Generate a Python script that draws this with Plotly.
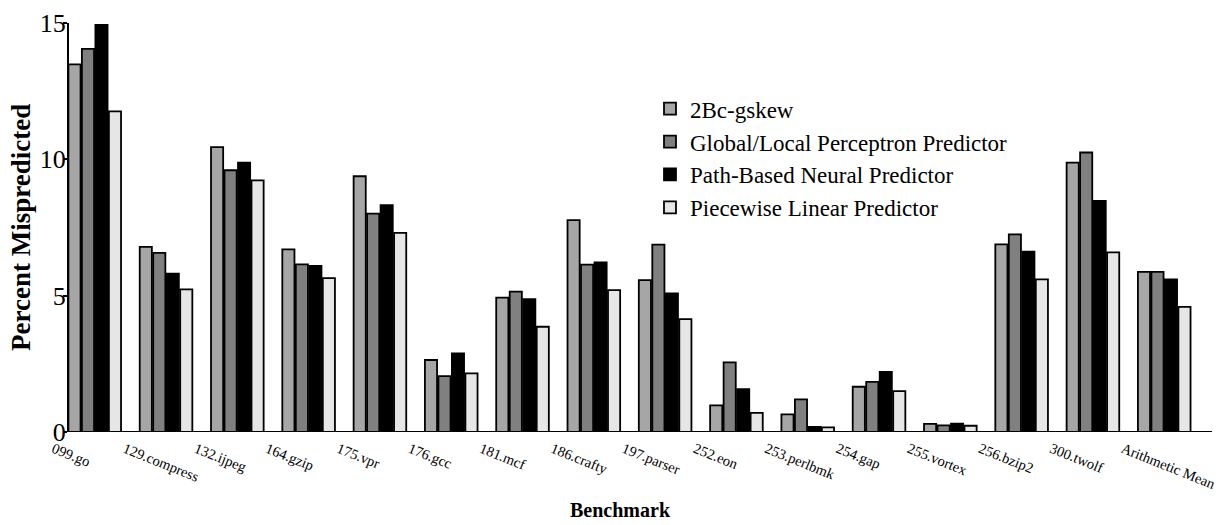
import plotly.graph_objects as go

benchmarks = ["099.go", "129.compress", "132.ijpeg", "164.gzip", "175.vpr", "176.gcc",
              "181.mcf", "186.crafty", "197.parser", "252.eon", "253.perlbmk", "254.gap",
              "255.vortex", "256.bzip2", "300.twolf", "Arithmetic Mean"]

gskew      = [13.48, 6.79, 10.45, 6.70, 9.38, 2.64, 4.93, 7.77, 5.57, 0.98, 0.65, 1.66, 0.30, 6.88, 9.88, 5.87]
perceptron = [14.05, 6.57, 9.60, 6.15, 8.01, 2.05, 5.15, 6.14, 6.87, 2.55, 1.20, 1.84, 0.24, 7.25, 10.25, 5.87]
path_based = [14.93, 5.81, 9.88, 6.09, 8.32, 2.88, 4.87, 6.22, 5.08, 1.57, 0.19, 2.20, 0.31, 6.61, 8.48, 5.60]
piecewise  = [11.76, 5.23, 9.23, 5.64, 7.30, 2.15, 3.86, 5.20, 4.14, 0.70, 0.17, 1.50, 0.23, 5.60, 6.59, 4.59]

series = [
    ("2Bc-gskew", gskew, "#a6a6a6"),
    ("Global/Local Perceptron Predictor", perceptron, "#808080"),
    ("Path-Based Neural Predictor", path_based, "#000000"),
    ("Piecewise Linear Predictor", piecewise, "#e6e6e6"),
]

idx = list(range(len(benchmarks)))
FONT = "Liberation Serif"

# plot area geometry (pixels)
L, R, T, B = 40, 1212, 23, 432
W_FIG, H_FIG = 1223, 525
PX_PER_UNIT = 71.3
X_RIGHT = 15.67
X_LEFT = X_RIGHT - (R - L) / PX_PER_UNIT
AXIS_X = -0.379          # data position of the vertical axis (left edge of first group)
AXIS_PX = L + (AXIS_X - X_LEFT) * PX_PER_UNIT

fig = go.Figure()
for name, vals, col in series:
    fig.add_trace(go.Bar(
        x=idx, y=vals, name=name,
        marker=dict(color=col, line=dict(color="black", width=1.8)),
    ))

fig.update_layout(
    width=W_FIG, height=H_FIG,
    margin=dict(l=L, r=W_FIG - R, t=T, b=H_FIG - B, autoexpand=False),
    paper_bgcolor="white", plot_bgcolor="white",
    barmode="group", bargap=0.243, bargroupgap=0.1,
    font=dict(family=FONT, color="black"),
    showlegend=True,
    legend=dict(
        x=(650 - L) / (R - L), y=0.843, xanchor="left", yanchor="top",
        font=dict(family=FONT, size=23, color="black"),
        bgcolor="rgba(0,0,0,0)",
    ),
    xaxis=dict(
        range=[X_LEFT, X_RIGHT],
        tickmode="array",
        tickvals=[i - 0.58 for i in idx],
        ticktext=benchmarks,
        tickangle=22,
        ticklabelstandoff=5,
        tickfont=dict(family=FONT, size=14.5, color="black"),
        showline=False, ticks="", showgrid=False, zeroline=False,
    ),
    yaxis=dict(
        range=[0, 15],
        anchor="free", position=(AXIS_PX - L) / (R - L),
        tickvals=[0, 5, 10, 15],
        ticklabelstandoff=-8,
        tickfont=dict(family=FONT, size=26, color="black"),
        showline=True, linecolor="black", linewidth=1.5,
        ticks="outside", ticklen=4, tickwidth=1.5, tickcolor="black",
        showgrid=False, zeroline=False,
    ),
    shapes=[
        dict(type="line", xref="x", yref="y", x0=AXIS_X, x1=X_RIGHT, y0=0, y1=0,
             line=dict(color="black", width=2)),
    ],
    annotations=[
        dict(text="<b>Benchmark</b>", xref="paper", yref="paper",
             x=(620 - L) / (R - L), y=(B - 510) / (B - T), xanchor="center", yanchor="middle",
             showarrow=False, font=dict(family=FONT, size=20, color="black")),
        dict(text="<b>Percent Mispredicted</b>", xref="paper", yref="paper",
             x=(21 - L) / (R - L), y=(B - 228) / (B - T), xanchor="center", yanchor="middle",
             textangle=-90, showarrow=False, font=dict(family=FONT, size=27, color="black")),
    ],
)

fig.write_html("out.html",
               config={"displayModeBar": False},
               post_script="document.body.style.margin='0';document.body.style.overflow='hidden';")
